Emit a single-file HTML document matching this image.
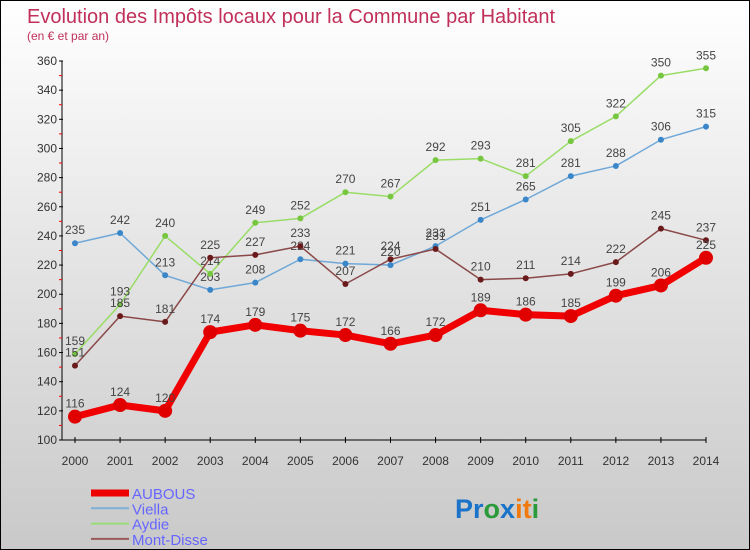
<!DOCTYPE html>
<html><head><meta charset="utf-8"><style>
body{margin:0;width:750px;height:550px;overflow:hidden;font-family:"Liberation Sans",sans-serif}
#wrap{position:relative;width:748px;height:548px;border:1px solid #000;background:linear-gradient(#fff,#e8e8e8 40%,#c9c9c9)}
</style></head><body>
<div id="wrap">
<svg id="chart" width="748" height="548" style="position:absolute;left:0;top:0">
<text x="26" y="22" font-size="20" fill="#c0305a">Evolution des Impôts locaux pour la Commune par Habitant</text>
<text x="26" y="39" font-size="12" fill="#c0305a">(en € et par an)</text>
<g id="axes"></g><g id="series"></g><g id="legend"></g>
<text x="454" y="517" font-size="27" font-weight="bold"><tspan fill="#1a73c8">Pr</tspan><tspan fill="#2a9a3a">o</tspan><tspan fill="#1a73c8">x</tspan><tspan fill="#f07a10">it</tspan><tspan fill="#2a9a3a">i</tspan></text>
</svg>
</div>
<script>
const years=[2000,2001,2002,2003,2004,2005,2006,2007,2008,2009,2010,2011,2012,2013,2014];
const yTicks=[100,120,140,160,180,200,220,240,260,280,300,320,340,360];
const aubous=[116,124,120,174,179,175,172,166,172,189,186,185,199,206,225];
const viella=[235,242,213,203,208,224,221,220,233,251,265,281,288,306,315];
const aydie=[159,193,240,214,249,252,270,267,292,293,281,305,322,350,355];
const montDisse=[151,185,181,225,227,233,207,224,231,210,211,214,222,245,237];
const names=["AUBOUS","Viella","Aydie","Mont-Disse"];
const NS="http://www.w3.org/2000/svg";
const X=i=>74+i*(631/(years.length-1));
const Y=v=>439-(v-100)*(379/260);
function mk(tag,attrs,parent){const e=document.createElementNS(NS,tag);for(const k in attrs)e.setAttribute(k,attrs[k]);parent.appendChild(e);return e;}
const ax=document.getElementById('axes');
let a=mk('line',{x1:61,y1:Y(360),x2:61,y2:Y(100),stroke:'#000'},ax);


a=mk('line',{x1:61,y1:Y(100),x2:X(14),y2:Y(100),stroke:'#000'},ax);


yTicks.forEach((v,i)=>{
 mk('line',{x1:58,x2:62,y1:Y(v),y2:Y(v),stroke:'#000'},ax);
 if(i<yTicks.length-1)mk('line',{x1:58,x2:61,y1:Y(v+10),y2:Y(v+10),stroke:'#f00'},ax);
 const t=mk('text',{x:56,y:Y(v)+4,'font-size':12,'text-anchor':'end',fill:'#333'},ax);t.textContent=v;
 
 
});
years.forEach((y,i)=>{
 mk('line',{x1:X(i),x2:X(i),y1:Y(100)-3,y2:Y(100)+3,stroke:'#000'},ax);
 const t=mk('text',{x:X(i),y:464,'font-size':12,'text-anchor':'middle',fill:'#333'},ax);t.textContent=y;
 
 
});
const sg=document.getElementById('series');
const defs=[[viella,'#6fa8d8','#3a86c8',1.5,3],[aydie,'#99dd66','#77c640',1.5,3],[montDisse,'#8a4848','#6a1a1a',1.5,3],[aubous,'#f00000','#e00000',7,7]];
const order=[3,0,1,2];
defs.forEach((d,k)=>{
 const [vals,lc,mc,w,r]=d;
 const g=mk('g',{},sg);
 
 
 const pl=mk('polyline',{points:vals.map((v,i)=>X(i)+','+Y(v)).join(' '),fill:'none',stroke:lc,'stroke-width':w,'stroke-linejoin':'round'},g);
 
 
 vals.forEach((v,i)=>{
  const c=mk('circle',{cx:X(i),cy:Y(v),r:r,fill:mc},g);
  
  
  const t=mk('text',{x:X(i),y:Y(v)-9,'font-size':12,'text-anchor':'middle',fill:'#444'},g);t.textContent=v;
  
  
 });
});
const lg=document.getElementById('legend');
const lcol=['#ee0000','#7fb0d8','#99dd77','#9a5a5a'],lw=[7,2,2,2];
names.forEach((n,i)=>{
 const y=492+i*15.3;
 const g=mk('g',{},lg);
 
 
 mk('line',{x1:90,x2:128,y1:y,y2:y,stroke:lcol[i],'stroke-width':lw[i]},g);
 const t=mk('text',{x:131,y:y+6,'font-size':15,fill:'#6666ff'},g);t.textContent=n;
});
</script>
</body></html>
